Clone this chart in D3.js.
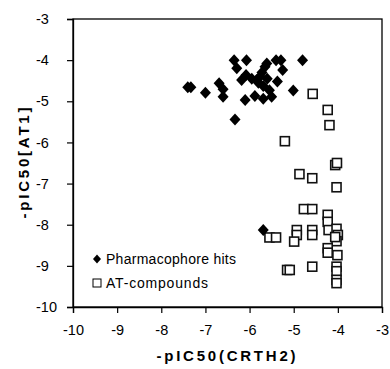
<!DOCTYPE html>
<html>
<head>
<meta charset="utf-8">
<script src="https://d3js.org/d3.v7.min.js"></script>
<style>
  body { margin: 0; background: #fff; }
  text { font-family: "Liberation Sans", Arial, sans-serif; fill: #000; }
</style>
</head>
<body>
<svg id="chart"></svg>
<script>
// pharmacophore hits: [-pIC50(CRTH2), -pIC50(AT1)]
const hitsX = [-7.4, -7.33, -7.0, -6.69, -6.6, -6.6, -6.35, -6.29, -6.33, -6.07, -6.18, -6.08, -6.1,
  -5.84, -5.88, -5.76, -5.69, -5.65, -5.69, -5.61, -5.55, -5.5, -5.4, -5.37, -5.29, -5.25, -5.01, -4.8,
  -5.69, -5.8, -5.72, -5.6, -5.95];
const hitsY = [-4.66, -4.66, -4.79, -4.56, -4.71, -4.89, -4.0, -4.2, -5.44, -4.0, -4.48, -4.36, -4.97,
  -4.48, -4.87, -4.4, -4.63, -4.16, -4.94, -4.08, -4.73, -4.89, -4.0, -4.52, -4.0, -4.24, -4.74, -4.0,
  -8.13, -4.55, -4.3, -4.45, -4.45];

// AT-compounds
const atX = [-4.57, -4.23, -4.19, -5.2, -4.06, -4.02, -4.87, -4.58, -4.03, -4.77, -4.58, -4.23, -4.23,
  -4.21, -4.03, -4.0, -4.03, -4.06, -4.93, -4.93, -4.99, -4.58, -4.58, -5.55, -5.4, -4.23, -4.23,
  -4.01, -4.03, -4.03, -4.58, -5.15, -5.09, -4.03, -4.03];
const atY = [-4.82, -5.21, -5.58, -5.97, -6.55, -6.5, -6.77, -6.87, -7.09, -7.62, -7.62, -7.76, -7.93,
  -8.13, -8.1, -8.25, -8.4, -8.3, -8.13, -8.25, -8.41, -8.13, -8.25, -8.31, -8.31, -8.57, -8.68,
  -8.74, -9.02, -9.13, -9.02, -9.1, -9.1, -9.34, -9.42];

const xTicks = [-10, -9, -8, -7, -6, -5, -4, -3];
const yTicks = [-3, -4, -5, -6, -7, -8, -9, -10];
const legendLabels = ["Pharmacophore hits", "AT-compounds"];

const W = 390, H = 369;
const margin = {top: 19, right: 8, bottom: 62, left: 73};
const width = W - margin.left - margin.right;
const height = H - margin.top - margin.bottom;

const svg = d3.select("#chart").attr("width", W).attr("height", H);
const g = svg.append("g").attr("transform", "translate(" + margin.left + "," + margin.top + ")");

const x = d3.scaleLinear().domain([-10, -3]).range([0, width]);
const y = d3.scaleLinear().domain([-10, -3]).range([height, 0]);

// frame
g.append("rect")
  .attr("x", 0).attr("y", 0)
  .attr("width", width).attr("height", height)
  .attr("fill", "none").attr("stroke", "#000").attr("stroke-width", 1.3);

// axes
const fmt = d => String(d);
const xAxis = g.append("g")
  .attr("transform", "translate(0," + height + ")")
  .call(d3.axisBottom(x).tickValues(xTicks).tickSize(6).tickPadding(12).tickFormat(fmt));
const yAxis = g.append("g")
  .call(d3.axisLeft(y).tickValues(yTicks).tickSize(6).tickPadding(4).tickFormat(fmt));

[xAxis, yAxis].forEach(a => {
  a.select(".domain").attr("stroke", "#000").attr("stroke-width", 1.3);
  a.selectAll(".tick line").attr("stroke", "#000").attr("stroke-width", 1.2);
  a.selectAll(".tick text").style("font-size", "14.5px").attr("font-family", "Liberation Sans, Arial, sans-serif");
});
// y labels sit left-aligned in the reference
yAxis.selectAll(".tick text").attr("text-anchor", "start").attr("x", -37);

// AT-compounds (open squares)
const sq = 9;
g.selectAll(".at")
  .data(atX.map((d, i) => [d, atY[i]]))
  .enter().append("rect")
  .attr("class", "at")
  .attr("x", d => x(d[0]) - sq / 2)
  .attr("y", d => y(d[1]) - sq / 2)
  .attr("width", sq).attr("height", sq)
  .attr("fill", "#fff").attr("stroke", "#111").attr("stroke-width", 1.6);

// pharmacophore hits (filled diamonds)
const diamond = "M0,-6L5.5,0L0,6L-5.5,0Z";
g.selectAll(".hit")
  .data(hitsX.map((d, i) => [d, hitsY[i]]))
  .enter().append("path")
  .attr("class", "hit")
  .attr("d", diamond)
  .attr("transform", d => "translate(" + x(d[0]) + "," + y(d[1]) + ")")
  .attr("fill", "#000");

// legend
const leg = g.append("g").attr("transform", "translate(24,240)");
leg.append("path").attr("d", "M0,-4.5L4,0L0,4.5L-4,0Z").attr("fill", "#000");
leg.append("text").attr("x", 9).attr("y", 5).style("font-size", "14px")
  .attr("textLength", 130).text(legendLabels[0]);
leg.append("rect").attr("x", -4).attr("y", 20).attr("width", 8).attr("height", 8)
  .attr("fill", "#fff").attr("stroke", "#000").attr("stroke-width", 1);
leg.append("text").attr("x", 9).attr("y", 29).style("font-size", "14px")
  .attr("textLength", 102).text(legendLabels[1]);

// axis titles
svg.append("text")
  .attr("x", 226).attr("y", 361)
  .attr("text-anchor", "middle")
  .style("font-size", "15px").style("font-weight", "bold")
  .attr("textLength", 139)
  .text("-pIC50(CRTH2)");

svg.append("text")
  .attr("transform", "translate(29,163) rotate(-90)")
  .attr("text-anchor", "middle")
  .style("font-size", "15px").style("font-weight", "bold")
  .attr("textLength", 111)
  .text("-pIC50[AT1]");
</script>
</body>
</html>
